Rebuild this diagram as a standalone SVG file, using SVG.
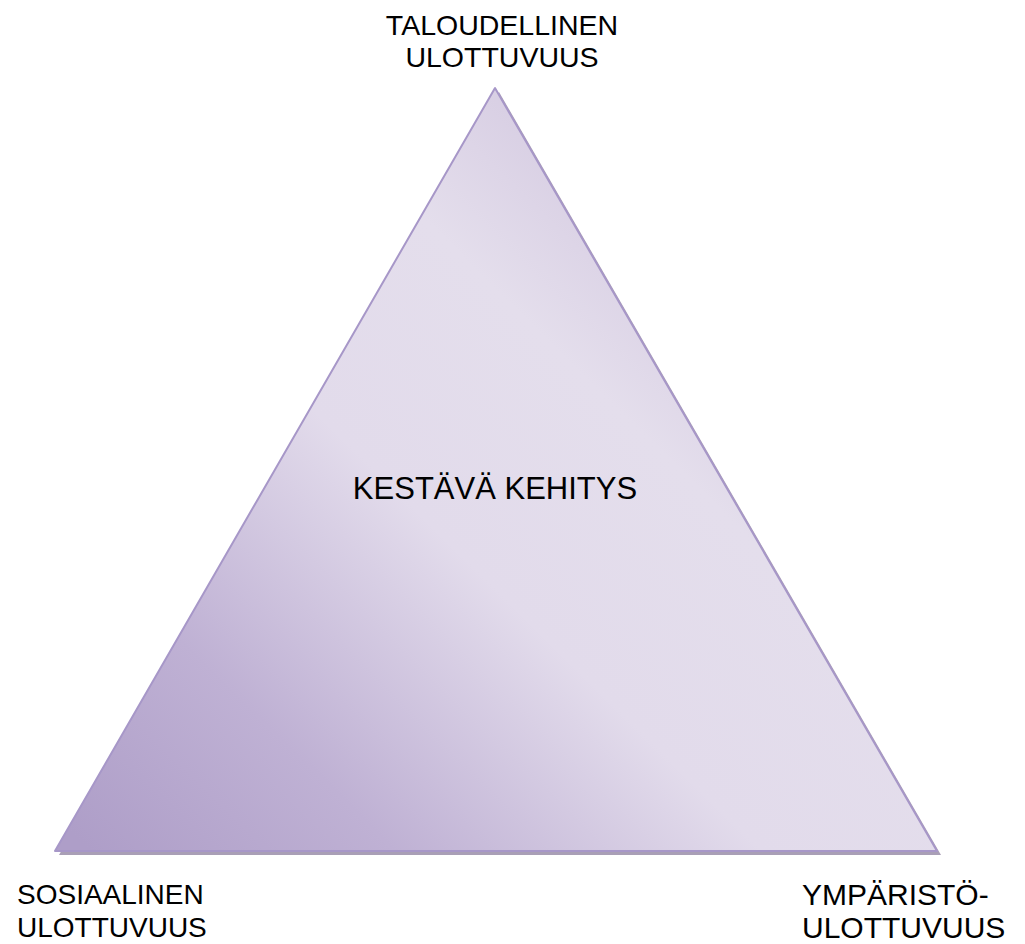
<svg xmlns="http://www.w3.org/2000/svg" width="1025" height="944" viewBox="0 0 1025 944">
  <defs>
    <linearGradient id="fill" gradientUnits="userSpaceOnUse" x1="100" y1="860" x2="700" y2="250">
      <stop offset="0" stop-color="#ae9ec8"/>
      <stop offset="0.25" stop-color="#bfb1d4"/>
      <stop offset="0.55" stop-color="#e2dbeb"/>
      <stop offset="0.8" stop-color="#e4deec"/>
      <stop offset="1" stop-color="#d6cce2"/>
    </linearGradient>
    <style>
      .lbl { font-family: "Liberation Sans", Arial, sans-serif; fill: #000; }
      .mid { text-anchor: middle; }
    </style>
  </defs>
  <rect width="1025" height="944" fill="#ffffff"/>
  <g id="triangle">
    <polygon points="499,92 59,855 941,855" fill="#a99fb6"/>
    <polygon points="495,88 55,851 937,851" fill="url(#fill)" stroke="#a797c8" stroke-width="2" stroke-linejoin="round"/>
  </g>
  <g id="center">
    <text class="lbl mid" x="495" y="499" font-size="31">KESTÄVÄ KEHITYS</text>
  </g>
  <g id="top">
    <text class="lbl mid" x="502" y="35" font-size="28.5">TALOUDELLINEN</text>
    <text class="lbl mid" x="502" y="67" font-size="28.5">ULOTTUVUUS</text>
  </g>
  <g id="bottom-left">
    <text class="lbl" x="17" y="904" font-size="28">SOSIAALINEN</text>
    <text class="lbl" x="17" y="937" font-size="28">ULOTTUVUUS</text>
  </g>
  <g id="bottom-right">
    <text class="lbl" x="802" y="905" font-size="30">YMPÄRISTÖ-</text>
    <text class="lbl" x="802" y="938" font-size="30">ULOTTUVUUS</text>
  </g>
  <g id="connectors"/>
</svg>
